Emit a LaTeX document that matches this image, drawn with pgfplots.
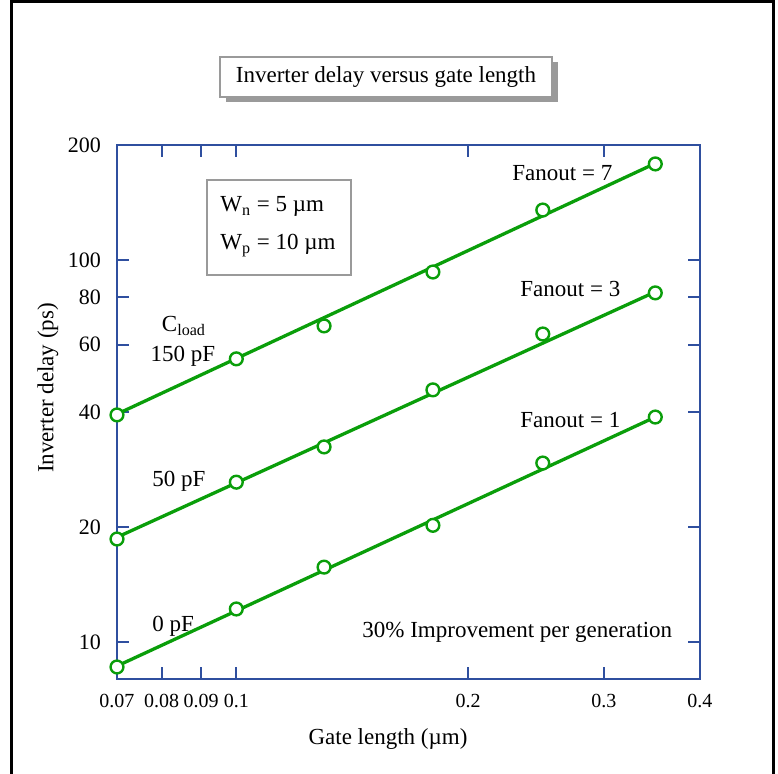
\documentclass[border=0pt]{standalone}
\usepackage{pgfplots}
\pgfplotsset{compat=1.18}
\usepackage{fontspec}
\setmainfont{Liberation Serif}
\definecolor{axblue}{HTML}{2F4F9F}
\definecolor{lgreen}{HTML}{0A9E0A}
\definecolor{boxgray}{HTML}{9A9A9A}

% measured points (gate length in um, delay in ps)
\pgfplotstableread{
x    f1   f3   f7
0.07 8.6  18.6 39.3
0.10 12.2 26.2 55.1
0.13 15.7 32.4 67.2
0.18 20.2 45.7 93.0
0.25 29.4 64.0 135.1
0.35 38.8 82.0 178.4
}\points

\begin{document}
\fontsize{11.5}{13.8}\selectfont
\begin{tikzpicture}
\path[use as bounding box] (0,0) rectangle (389pt,387pt);
% outer frame (open at the bottom)
\draw[line width=1.5pt] (5.5pt,-5pt) -- (5.5pt,386pt) -- (386.5pt,386pt) -- (386.5pt,-5pt);

% title box with shadow
\fill[boxgray] (113pt,336pt) rectangle (279pt,356pt);
\draw[boxgray, fill=white, line width=1pt] (110pt,338.5pt) rectangle (276pt,358.5pt);
\node at (193pt,348.5pt) {Inverter delay versus gate length};

\begin{axis}[
  at={(58.5pt,47.5pt)}, anchor=south west,
  scale only axis, width=291.5pt, height=267pt,
  xmode=log, ymode=log,
  xmin=0.07, xmax=0.4, ymin=8, ymax=200,
  xtick={0.07,0.08,0.09,0.1,0.2,0.3,0.4},
  xticklabels={0.07,0.08,0.09,0.1,0.2,0.3,0.4},
  ytick={10,20,40,60,80,100,200},
  yticklabels={10,20,40,60,80,100,200},
  minor tick num=0,
  log ticks with fixed point,
  tick align=inside, major tick length=6pt,
  axis line style={axblue, line width=1pt},
  every tick/.style={axblue, line width=1pt},
  xticklabel style={font=\fontsize{10}{12}\selectfont, yshift=-3.5pt},
  yticklabel style={font=\fontsize{11}{13}\selectfont, xshift=-4pt},
  clip=false,
]
\addplot[lgreen, line width=1.65pt] coordinates {(0.07,39.5) (0.35,179)};
\addplot[lgreen, line width=1.65pt] coordinates {(0.07,18.8) (0.35,82.5)};
\addplot[lgreen, line width=1.65pt] coordinates {(0.07,8.65) (0.35,38.8)};
\addplot[only marks, mark=*, mark size=3.2pt,
  mark options={fill=white, draw=lgreen, line width=1.2pt}] table[x=x, y=f7] {\points};
\addplot[only marks, mark=*, mark size=3.2pt,
  mark options={fill=white, draw=lgreen, line width=1.2pt}] table[x=x, y=f3] {\points};
\addplot[only marks, mark=*, mark size=3.2pt,
  mark options={fill=white, draw=lgreen, line width=1.2pt}] table[x=x, y=f1] {\points};
\end{axis}

% axis titles
\node[anchor=base] at (194pt,14.5pt) {Gate length (\textmu m)};
\node[rotate=90] at (24pt,193pt) {Inverter delay (ps)};

% device box
\draw[boxgray, fill=white, line width=1pt] (103.5pt,249.5pt) rectangle (175.5pt,297pt);
\node[anchor=base west, inner sep=0pt] at (110pt,281pt) {W\textsubscript{n} = 5 \textmu m};
\node[anchor=base west, inner sep=0pt] at (110pt,262pt) {W\textsubscript{p} = 10 \textmu m};

% load labels
\node[anchor=base, inner sep=0pt] at (92pt,221pt) {C\textsubscript{load}};
\node[anchor=base, inner sep=0pt] at (91.5pt,206pt) {150 pF};
\node[anchor=base west, inner sep=0pt] at (76pt,143.5pt) {50 pF};
\node[anchor=base west, inner sep=0pt] at (76pt,71pt) {0 pF};

% fanout labels
\node[anchor=base west, inner sep=0pt] at (256pt,296.5pt) {Fanout = 7};
\node[anchor=base west, inner sep=0pt] at (260pt,238.5pt) {Fanout = 3};
\node[anchor=base west, inner sep=0pt] at (260pt,173pt) {Fanout = 1};
\node[anchor=base west, inner sep=0pt] at (181pt,68pt) {30\% Improvement per generation};
\end{tikzpicture}
\end{document}
